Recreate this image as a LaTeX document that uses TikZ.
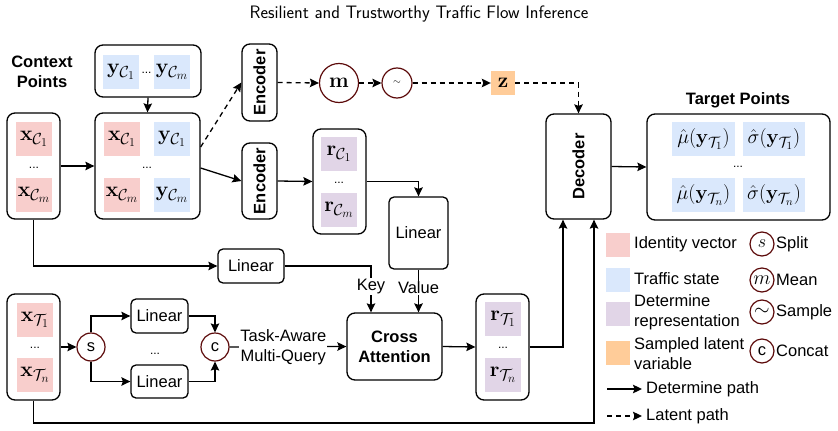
\RequirePackage{fix-cm}
\documentclass[tikz,border=0pt]{standalone}
\usepackage[no-math]{fontspec}
\setmainfont{Liberation Sans}
\usepackage{graphicx}
\usetikzlibrary{positioning, arrows.meta}

\definecolor{idpink}{HTML}{F8CECC}
\definecolor{trblue}{HTML}{DAE8FC}
\definecolor{rppurple}{HTML}{E1D5E7}
\definecolor{ltorange}{HTML}{FFCC99}
\definecolor{opred}{HTML}{5C0A0A}

\DeclareMathSizes{21}{21}{16}{12}
\DeclareMathSizes{20}{20}{15}{11}

\newcommand{\bodyfont}{\fontsize{16.5}{20}\selectfont}
\newcommand{\cellfont}{\fontsize{21}{24}\selectfont}
\newcommand{\outfont}{\fontsize{20}{23}\selectfont}
\newcommand{\vtext}[1]{\rotatebox{90}{#1}}

\begin{document}
\begin{tikzpicture}[x=1pt, y=-1pt]

\tikzset{
    blk/.style={draw, line width=1.3pt, rounded corners=8pt, inner sep=0pt, font=\bodyfont},
    lin/.style={blk, rounded corners=5pt},
    cell/.style={inner sep=0pt, minimum width=36pt, minimum height=34pt, font=\cellfont},
    idcell/.style={cell, fill=idpink},
    ycell/.style={cell, fill=trblue},
    rcell/.style={cell, fill=rppurple},
    outcell/.style={cell, fill=trblue, minimum width=63pt, font=\outfont},
    op/.style={circle, draw=opred, line width=1.2pt, inner sep=0pt, font=\bodyfont},
    flow/.style={line width=1.3pt, -{Stealth[length=9pt, width=8.5pt, inset=1.5pt]}},
    latent/.style={flow, dash pattern=on 5pt off 4pt},
    lbl/.style={fill=white, inner sep=1pt, font=\bodyfont},
    txt/.style={inner sep=0pt, font=\bodyfont},
    dots/.style={inner sep=0pt, font=\fontsize{12}{14}\selectfont},
    swatch/.style={inner sep=0pt, minimum width=24pt, minimum height=24pt}
}

\useasboundingbox (0,0) rectangle (838,431);

% title
\node[font=\sffamily\fontsize{18}{21}\selectfont] (title) at (419,14)
    {Resilient and Trustworthy Traffic Flow Inference};

%====================================================
% context points
%====================================================
\node[txt, font=\bodyfont\bfseries, align=center] (ctxlbl) at (42,72) {Context\\Points};

\node[blk, minimum width=53pt, minimum height=106pt] (xC) at (33.5,166) {};
\node[idcell] (xC1) at (34,139) {$\mathbf{x}_{\mathcal{C}_1}$};
\node[dots] (xCdots) at (34,168) {...};
\node[idcell] (xCm) at (34,195) {$\mathbf{x}_{\mathcal{C}_m}$};

\node[blk, minimum width=106pt, minimum height=52pt] (yC) at (148,71) {};
\node[ycell] (yC1) at (121,72) {$\mathbf{y}_{\mathcal{C}_1}$};
\node[dots] (yCdots) at (146.5,73) {...};
\node[ycell] (yCm) at (172,72) {$\mathbf{y}_{\mathcal{C}_m}$};

\node[blk, minimum width=105pt, minimum height=106pt] (xyC) at (147.5,166) {};
\node[idcell] (xyx1) at (122,139) {$\mathbf{x}_{\mathcal{C}_1}$};
\node[ycell] (xyy1) at (172,139) {$\mathbf{y}_{\mathcal{C}_1}$};
\node[dots] (xyCdots) at (147,168) {...};
\node[idcell] (xyxm) at (122,195) {$\mathbf{x}_{\mathcal{C}_m}$};
\node[ycell] (xyym) at (172,195) {$\mathbf{y}_{\mathcal{C}_m}$};

\draw[flow] (yC.south) -- (xyC.north);
\draw[flow] (xC.east) -- (xyC.west);

%====================================================
% encoders and latent path
%====================================================
\node[blk, minimum width=35pt, minimum height=77pt, font=\bodyfont\bfseries] (encT) at (259.5,82.5) {\vtext{Encoder}};
\node[blk, minimum width=35pt, minimum height=76pt, font=\bodyfont\bfseries] (encB) at (259.5,181) {\vtext{Encoder}};

\node[op, minimum size=39pt, font=\cellfont] (mean) at (339,83) {$\mathbf{m}$};
\node[op, minimum size=30pt, font=\fontsize{10}{12}\selectfont] (samp) at (397,83) {$\sim$};
\node[cell, fill=ltorange, minimum width=24pt, minimum height=24pt] (zlat) at (503,83) {$\mathbf{z}$};

\draw[latent] ([yshift=19pt]xyC.east) -- (encT.west);
\draw[flow] ([yshift=-2pt]xyC.east) -- (encB.west);
\draw[latent] (encT.east) -- (mean.west);
\draw[latent] (mean.east) -- (samp.west);
\draw[latent] (samp.east) -- (zlat.west);

%====================================================
% deterministic path
%====================================================
\node[blk, minimum width=53pt, minimum height=105pt] (rC) at (339.5,181.5) {};
\node[rcell] (rC1) at (339,154) {$\mathbf{r}_{\mathcal{C}_1}$};
\node[dots] (rCdots) at (339,183) {...};
\node[rcell] (rCm) at (339,210) {$\mathbf{r}_{\mathcal{C}_m}$};

\node[lin, minimum width=59pt, minimum height=72pt] (linV) at (418.5,233) {Linear};
\node[lin, minimum width=66pt, minimum height=34pt] (linK) at (251,266) {Linear};

\node[blk, minimum width=95pt, minimum height=67pt, align=center, font=\bodyfont\bfseries] (cross) at (394.5,346.5) {Cross\\Attention};

\draw[flow] (encB.east) -- (rC.west);
\draw[flow] (rC.east) -| (linV.north);
\draw[flow] (xC.south) |- (linK.west);
\draw[flow] (linK.east) -| ([xshift=-23.5pt]cross.north) node[lbl, pos=0.72] (keylbl) {Key};
\draw[flow] (linV.south) -- (linV.south |- cross.north) node[lbl, pos=0.42] (vallbl) {Value};

%====================================================
% target points and multi-query
%====================================================
\node[blk, minimum width=53pt, minimum height=106pt] (xT) at (33.5,347) {};
\node[idcell] (xT1) at (35,320) {$\mathbf{x}_{\mathcal{T}_1}$};
\node[dots] (xTdots) at (35,348) {...};
\node[idcell] (xTn) at (35,375) {$\mathbf{x}_{\mathcal{T}_n}$};

\node[op, minimum size=28pt] (split) at (91,347) {s};
\node[lin, minimum width=57pt, minimum height=34pt] (linA) at (159.5,316) {Linear};
\node[dots] (lindots) at (155,354) {...};
\node[lin, minimum width=57pt, minimum height=33pt] (linB) at (159.5,381.5) {Linear};
\node[op, minimum size=28pt] (concat) at (215,347) {c};

\draw[flow] (xT.east) -- (split.west);
\draw[flow] (split.north) |- (linA.west);
\draw[flow] (split.south) |- (linB.west);
\draw[flow] (linA.east) -| (concat.north);
\draw[flow] (linB.east) -| (concat.south);
\draw[flow] (concat.east) -- (cross.west)
    node[lbl, pos=0.46, align=center] (tamq) {Task-Aware\\Multi-Query};

\node[blk, minimum width=53pt, minimum height=106pt] (rT) at (502.5,347) {};
\node[rcell] (rT1) at (503,319) {$\mathbf{r}_{\mathcal{T}_1}$};
\node[dots] (rTdots) at (503,348) {...};
\node[rcell] (rTn) at (503,375) {$\mathbf{r}_{\mathcal{T}_n}$};

\draw[flow] (cross.east) -- (rT.west);

%====================================================
% decoder and outputs
%====================================================
\node[blk, minimum width=65pt, minimum height=105pt, font=\bodyfont\bfseries] (decoder) at (578.5,166.5) {\vtext{Decoder}};

\node[blk, minimum width=183pt, minimum height=106pt] (tgt) at (738.5,167) {};
\node[txt, font=\bodyfont\bfseries] (tgtlbl) at (738,100) {Target Points};
\node[outcell] (mu1) at (703.5,139) {$\hat{\mu}(\mathbf{y}_{\mathcal{T}_1})$};
\node[outcell, minimum width=62pt] (sig1) at (774,139) {$\hat{\sigma}(\mathbf{y}_{\mathcal{T}_1})$};
\node[dots] (tgtdots) at (738,167) {...};
\node[outcell] (mun) at (703.5,195) {$\hat{\mu}(\mathbf{y}_{\mathcal{T}_n})$};
\node[outcell, minimum width=62pt] (sign) at (774,195) {$\hat{\sigma}(\mathbf{y}_{\mathcal{T}_n})$};

\coordinate (lowrun) at (594,423);

\draw[latent] (zlat.east) -| (decoder.north);
\draw[flow] (rT.east) -| ([xshift=-15.5pt]decoder.south);
\draw[flow] (xT.south) |- (lowrun) -- ([xshift=15.5pt]decoder.south);
\draw[flow] (decoder.east) -- (tgt.west);

%====================================================
% legend
%====================================================
\node[swatch, fill=idpink] (legid) at (618,245) {};
\node[swatch, fill=trblue] (legtr) at (618,280) {};
\node[swatch, fill=rppurple] (legrp) at (618,313.5) {};
\node[swatch, fill=ltorange] (legsl) at (618,353) {};

\node[txt, anchor=west] (legidt) at (634,244) {Identity vector};
\node[txt, anchor=west] (legtrt) at (634,279) {Traffic state};
\node[txt, anchor=west, align=left] (legrpt) at (634,312) {Determine\\representation};
\node[txt, anchor=west, align=left] (legslt) at (634,354) {Sampled latent\\variable};

\node[op, minimum size=24pt, font=\fontsize{18}{20}\selectfont] (legs) at (762,244) {$s$};
\node[op, minimum size=24pt, font=\fontsize{20}{22}\selectfont] (legm) at (762,280) {$m$};
\node[op, minimum size=24pt, font=\fontsize{20}{22}\selectfont] (legw) at (762,312) {$\sim$};
\node[op, minimum size=24pt] (legc) at (762,351) {c};

\node[txt, anchor=west] (legst) at (776,244) {Split};
\node[txt, anchor=west] (legmt) at (776,280) {Mean};
\node[txt, anchor=west] (legwt) at (776,312) {Sample};
\node[txt, anchor=west] (legct) at (776,351) {Concat};

\coordinate (legdet) at (607,389);
\coordinate (leglat) at (607,416);
\node[txt, anchor=west, inner xsep=4pt] (legdett) at (642,389) {Determine path};
\node[txt, anchor=west, inner xsep=4pt] (leglatt) at (642,416) {Latent path};
\draw[flow] (legdet) -- (legdett.west);
\draw[latent] (leglat) -- (leglatt.west);

\end{tikzpicture}
\end{document}
